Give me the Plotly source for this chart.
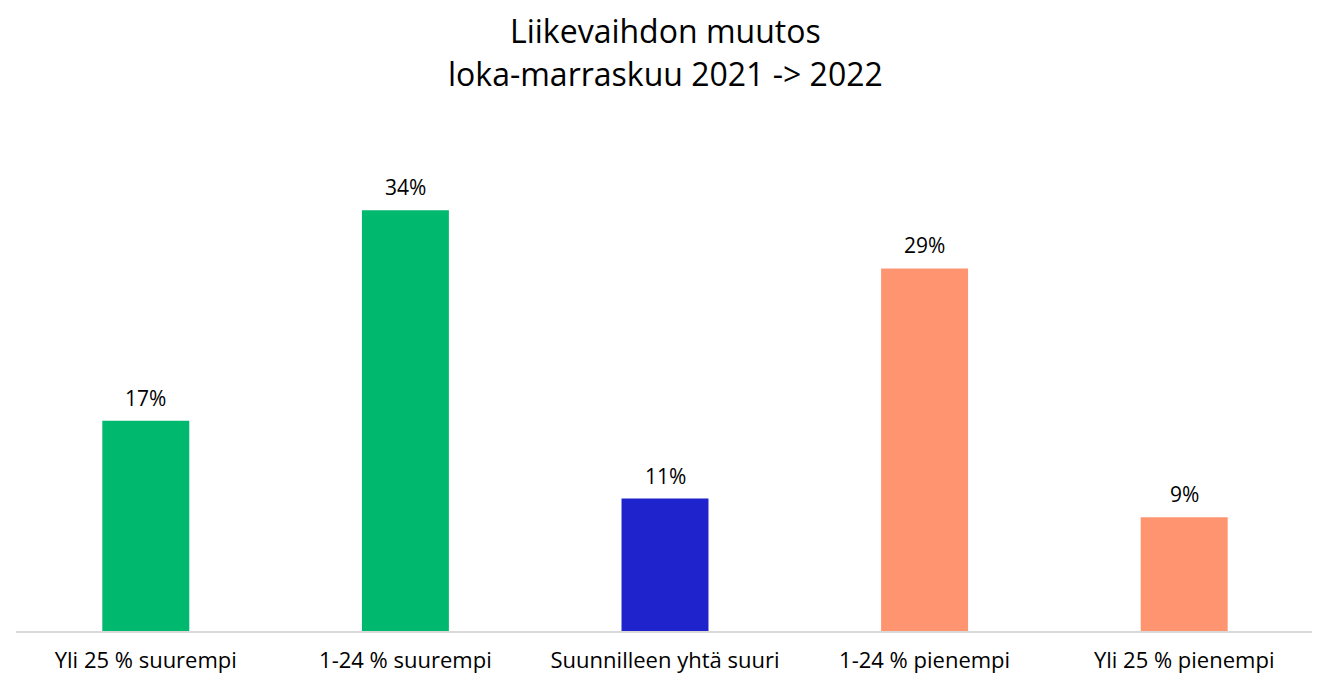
import plotly.graph_objects as go

categories = ["Yli 25 % suurempi", "1-24 % suurempi", "Suunnilleen yhtä suuri",
              "1-24 % pienempi", "Yli 25 % pienempi"]
values = [0.17, 0.34, 0.107, 0.293, 0.092]
colors = ["#00B86E", "#00B86E", "#1F23CC", "#FF9470", "#FF9470"]
title_lines = ["Liikevaihdon muutos", "loka-marraskuu 2021 -> 2022"]

font_family = "Open Sans, Liberation Sans, sans-serif"

fig = go.Figure()
fig.add_trace(go.Bar(
    x=categories, y=values, marker=dict(color=colors, line=dict(width=0)),
    hoverinfo="skip",
))

for c, v in zip(categories, values):
    fig.add_annotation(x=c, y=v, text=f"{round(v*100)}%", showarrow=False,
                       yanchor="bottom", yshift=7,
                       font=dict(size=21, color="#000000", family=font_family))

title_y = [1.214, 1.127]
for line, ty in zip(title_lines, title_y):
    fig.add_annotation(x=0.5, xref="paper", y=ty, yref="paper",
                       text=line, showarrow=False, xanchor="center", yanchor="middle",
                       font=dict(size=32, color="#000000", family=font_family))

fig.update_layout(
    width=1312, height=666,
    paper_bgcolor="white", plot_bgcolor="white",
    margin=dict(l=8, r=6, t=128, b=43, autoexpand=False),
    bargap=0.665,
    showlegend=False,
    font=dict(family=font_family, color="#000000"),
)
fig.update_xaxes(showline=True, linecolor="#D9D9D9", linewidth=2,
                 tickfont=dict(size=22, color="#000000", family=font_family),
                 ticks="", ticklabelstandoff=9, showgrid=False, automargin=False)
fig.update_yaxes(range=[0, 0.4], visible=False, showgrid=False)

fig.write_html("out.html")
